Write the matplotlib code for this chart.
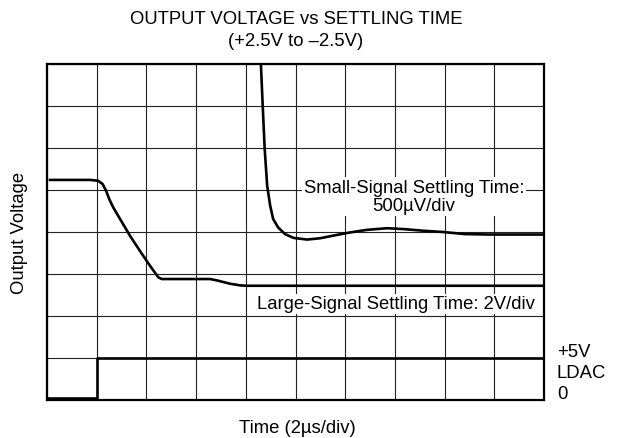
import numpy as np
import matplotlib
matplotlib.use("Agg")
import matplotlib.pyplot as plt

# =======================================================
# Trace data, in scope divisions (10 x 8 graticule)
# =======================================================
large_t = [0.06, 0.87, 1.03, 1.12, 1.19, 1.25, 1.33, 1.47, 1.67, 1.87, 2.07, 2.24, 2.31,
           3.28, 3.41, 3.68, 3.88, 4.02, 10.0]
large_v = [5.24, 5.24, 5.22, 5.14, 4.98, 4.79, 4.59, 4.31, 3.91, 3.55, 3.20, 2.92, 2.88,
           2.88, 2.85, 2.77, 2.73, 2.72, 2.72]

small_t = [4.30, 4.34, 4.38, 4.43, 4.49, 4.55, 4.65, 4.79, 4.96, 5.23, 5.49, 5.83, 6.10,
           6.43, 6.84, 7.17, 7.57, 7.97, 8.41, 8.91, 10.0]
small_v = [8.1, 7.01, 5.98, 5.10, 4.63, 4.31, 4.11, 3.95, 3.86, 3.82, 3.85, 3.93, 3.99,
           4.05, 4.09, 4.07, 4.03, 4.00, 3.95, 3.94, 3.94]

ldac_t = [0.0, 1.0, 1.0, 10.0]
ldac_v = [0.05, 0.05, 1.0, 1.0]

N_XDIV, N_YDIV = 10, 8
FS = 13.3

plt.rcParams['font.family'] = ['Liberation Sans', 'DejaVu Sans']

fig = plt.figure(figsize=(6.26, 4.39), dpi=100)
ax = fig.add_axes([47 / 626, 38 / 439, 497 / 626, 336 / 439])

ax.set_xlim(0, N_XDIV)
ax.set_ylim(0, N_YDIV)
ax.set_xticks(np.arange(0, N_XDIV + 1))
ax.set_yticks(np.arange(0, N_YDIV + 1))
ax.tick_params(length=0, labelbottom=False, labelleft=False)
ax.grid(True, color='#222222', linewidth=0.8)
ax.set_axisbelow(True)
for s in ax.spines.values():
    s.set_linewidth(1.6)

trace_kw = dict(color='black', linewidth=1.9, solid_joinstyle='round', clip_on=True)
ax.plot(large_t, large_v, **trace_kw)
ax.plot(small_t, small_v, **trace_kw)
ax.plot(ldac_t, ldac_v, **trace_kw)

# Annotations with white backing over the graticule
box = dict(facecolor='white', edgecolor='none', pad=1.0)
ax.text(7.38, 4.85, "Small-Signal Settling Time:\n500\u00b5V/div", ha='center', va='center',
        fontsize=FS, linespacing=1.12, bbox=box, zorder=3)
ax.text(7.02, 2.29, "Large-Signal Settling Time: 2V/div", ha='center', va='center',
        fontsize=FS, bbox=box, zorder=3)

fig.text(557 / 626, 1 - 353 / 439, "+5V", ha='left', va='center', fontsize=FS)
fig.text(557 / 626, 1 - 374 / 439, "LDAC", ha='left', va='center', fontsize=FS)
fig.text(557 / 626, 1 - 395 / 439, "0", ha='left', va='center', fontsize=FS)

fig.text(296 / 626, 1 - 20 / 439, "OUTPUT VOLTAGE vs SETTLING TIME", ha='center', va='center', fontsize=FS)
fig.text(296 / 626, 1 - 42 / 439, "(+2.5V to \u20132.5V)", ha='center', va='center', fontsize=FS)
fig.text(297 / 626, 1 - 429 / 439, "Time (2\u00b5s/div)", ha='center', va='center', fontsize=FS)
fig.text(20 / 626, 1 - 233 / 439, "Output Voltage", ha='center', va='center', fontsize=FS, rotation=90)

fig.savefig("out.png", dpi=100)
